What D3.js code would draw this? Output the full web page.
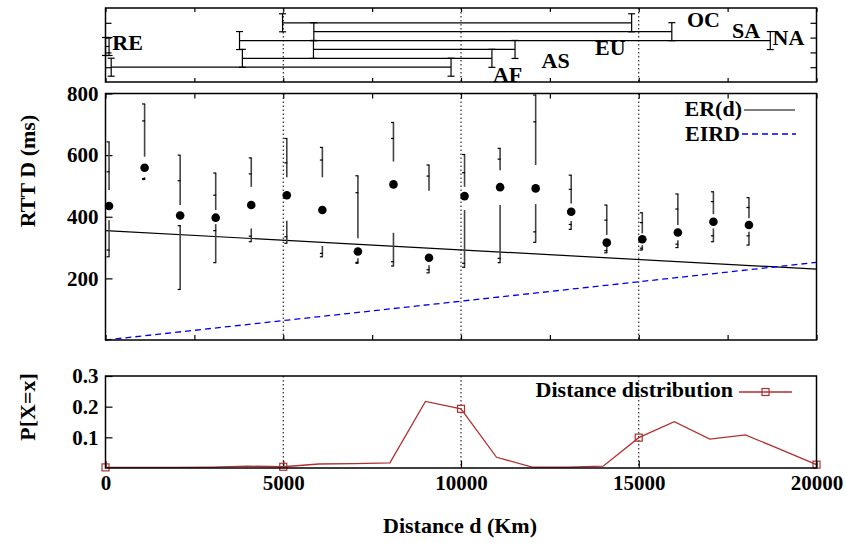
<!DOCTYPE html>
<html><head><meta charset="utf-8">
<script src="https://cdn.jsdelivr.net/npm/d3@7"></script>
<style>
body{margin:0;background:#fff;}
svg text{font-family:"Liberation Serif","Times New Roman",serif;font-weight:bold;fill:#000;}
</style></head><body>
<svg id="c" width="846" height="543"></svg>
<script>
// ---------- top panel: distance range per continent ----------
const continents = ["AF","AS","EU","NA","SA","OC","RE"];
const contLevel  = [1.0, 1.6, 2.2, 2.8, 3.4, 4.0, 2.4];
const contMin    = [160, 3850, 5850, 3770, 5860, 4980, 0];
const contMax    = [9720, 10870, 11520, 18700, 15930, 14800, 100];
const labelX     = [11310, 12660, 14200, 19210, 18020, 16820, 620];
const labelLevel = [0.0, 0.93, 1.82, 2.5, 2.95, 3.74, 2.16];

// ---------- middle panel: RTT vs distance ----------
const rttDist     = [100,1100,2100,3100,4100,5100,6100,7100,8100,9100,10100,11100,12100,13100,14100,15100,16100,17100,18100];
const whiskerHigh = [643,766,600,542,591,654,625,533,706,568,602,622,795,535,438,413,474,481,462];
const tickHigh    = [546,711,517,470,539,575,584,478,654,532,543,587,708,489,389,381,425,449,430];
const upperEnd    = [487,595,438,422,497,528,528,330,579,484,497,551,568,443,341,346,373,409,395];
const rttMean     = [435,559,404,397,438,470,422,287,505,267,467,496,492,416,316,327,349,384,373];
const lowerStart  = [389,528,373,376,362,387,305,265,348,243,422,438,441,386,303,308,324,362,351];
const tickLow     = [292,524,371,355,337,335,281,252,254,228,249,265,351,375,290,298,311,338,338];
const whiskerLow  = [270,521,164,251,319,314,270,249,240,218,236,251,317,359,283,292,300,319,308];

const modelDist = [0, 20000];
const erValue   = [355, 230];
const eirdValue = [0, 252];

// ---------- bottom panel: distance distribution ----------
const distX = [0,1000,2000,3000,4000,5000,6000,7000,8000,9000,10000,11000,12000,13000,14000,15000,16000,17000,18000,19000,20000];
const distP = [0.002,0.002,0.002,0.003,0.006,0.004,0.013,0.014,0.017,0.217,0.193,0.035,0.003,0.003,0.006,0.099,0.151,0.094,0.108,0.060,0.011];

const xTicksMinor = [0,2500,5000,7500,10000,12500,15000,17500,20000];
const xTickLabels = [0,5000,10000,15000,20000];
const gridDist    = [5000,10000,15000];
const midYTicks   = [200,400,600,800];
const botYTicks   = [0.1,0.2,0.3];
const topYTicks   = [1,2,3,4];

const FS = 21, FT = 22;
const svg = d3.select("#c");
const L = 105.5, R = 816.5;
const x = d3.scaleLinear().domain([0,20000]).range([L,R]);
const yTop = d3.scaleLinear().domain([0,5]).range([82,8]);
const yMid = d3.scaleLinear().domain([0,800]).range([340,93.5]);
const yBot = d3.scaleLinear().domain([0,0.3]).range([468,376]);

function grid(y0,y1){
  svg.append("g").selectAll("line").data(gridDist).join("line")
    .attr("x1",d=>x(d)).attr("x2",d=>x(d)).attr("y1",y0).attr("y2",y1)
    .attr("stroke","#000").attr("stroke-width",1).attr("stroke-dasharray","1.5,2.5");
}
function frame(y0,y1){
  svg.append("rect").attr("x",L).attr("y",y0).attr("width",R-L).attr("height",y1-y0)
    .attr("fill","none").attr("stroke","#000").attr("stroke-width",1.5);
}
function cleanAxis(g){ g.select(".domain").remove(); g.selectAll("line").attr("stroke","#000").attr("stroke-width",1.2); }

// ===== TOP PANEL =====
grid(8,82);
svg.append("g").attr("transform","translate(0,82)").call(d3.axisBottom(x).tickValues(xTicksMinor).tickSize(-4).tickFormat("")).call(cleanAxis);
svg.append("g").attr("transform","translate(0,8)").call(d3.axisTop(x).tickValues(xTicksMinor).tickSize(-4).tickFormat("")).call(cleanAxis);
svg.append("g").attr("transform",`translate(${L},0)`).call(d3.axisLeft(yTop).tickValues(topYTicks).tickSize(-6).tickFormat("")).call(cleanAxis);
svg.append("g").attr("transform",`translate(${R},0)`).call(d3.axisRight(yTop).tickValues(topYTicks).tickSize(-6).tickFormat("")).call(cleanAxis);

const topG = svg.append("g").attr("stroke","#000").attr("stroke-width",1.2);
continents.forEach((c,i)=>{
  const yy = yTop(contLevel[i]);
  topG.append("line").attr("x1",x(contMin[i])).attr("x2",x(contMax[i])).attr("y1",yy).attr("y2",yy);
  [contMin[i],contMax[i]].forEach(v=>{
    const xx = x(v);
    topG.append("line").attr("x1",xx).attr("x2",xx).attr("y1",yy-9).attr("y2",yy+9);
    topG.append("line").attr("x1",xx-3.5).attr("x2",xx+3.5).attr("y1",yy-9).attr("y2",yy-9);
    topG.append("line").attr("x1",xx-3.5).attr("x2",xx+3.5).attr("y1",yy+9).attr("y2",yy+9);
  });
  svg.append("text").attr("x",x(labelX[i])).attr("y",yTop(labelLevel[i]))
    .attr("text-anchor","middle").attr("font-size",FT).text(c);
});
frame(8,82);

// ===== MIDDLE PANEL =====
grid(93.5,340);
svg.append("g").attr("transform","translate(0,340)").call(d3.axisBottom(x).tickValues(xTicksMinor).tickSize(-5).tickFormat("")).call(cleanAxis);
svg.append("g").attr("transform","translate(0,93.5)").call(d3.axisTop(x).tickValues(xTicksMinor).tickSize(-5).tickFormat("")).call(cleanAxis);
svg.append("g").attr("transform",`translate(${L},0)`)
  .call(d3.axisLeft(yMid).tickValues(midYTicks).tickSize(-7).tickPadding(7).tickFormat(d3.format("d")))
  .call(cleanAxis)
  .call(g=>g.selectAll("text").attr("font-size",FS).attr("font-family",null));

const lineGen = (vals)=> d3.line().x((d,i)=>x(modelDist[i])).y(d=>yMid(d))(vals);
svg.append("path").attr("d",lineGen(erValue)).attr("fill","none").attr("stroke","#000").attr("stroke-width",1.2);
svg.append("path").attr("d",lineGen(eirdValue)).attr("fill","none").attr("stroke","#0000ee").attr("stroke-width",1.3).attr("stroke-dasharray","6,4");

const pg = svg.append("g");
rttDist.forEach((d,i)=>{
  const cx = x(d);
  pg.append("line").attr("x1",cx).attr("x2",cx).attr("y1",yMid(whiskerHigh[i])).attr("y2",yMid(upperEnd[i]))
    .attr("stroke","#444").attr("stroke-width",1.6);
  pg.append("line").attr("x1",cx).attr("x2",cx).attr("y1",yMid(lowerStart[i])).attr("y2",yMid(whiskerLow[i]))
    .attr("stroke","#444").attr("stroke-width",1.6);
  [whiskerHigh[i],whiskerLow[i],tickHigh[i],tickLow[i]].forEach(v=>{
    pg.append("line").attr("x1",cx-2.5).attr("x2",cx+0.5).attr("y1",yMid(v)).attr("y2",yMid(v))
      .attr("stroke","#000").attr("stroke-width",1.2);
  });
  pg.append("circle").attr("cx",cx).attr("cy",yMid(rttMean[i])).attr("r",4.3).attr("fill","#000");
});

svg.append("text").attr("x",742).attr("y",116).attr("text-anchor","end").attr("font-size",FT).text("ER(d)");
svg.append("line").attr("x1",744).attr("x2",795).attr("y1",110).attr("y2",110).attr("stroke","#000").attr("stroke-width",1.2);
svg.append("text").attr("x",740).attr("y",141).attr("text-anchor","end").attr("font-size",FT).text("EIRD");
svg.append("line").attr("x1",742).attr("x2",796).attr("y1",134).attr("y2",134).attr("stroke","#0000ee").attr("stroke-width",1.3).attr("stroke-dasharray","6,4");
frame(93.5,340);

// ===== BOTTOM PANEL =====
grid(376,468);
svg.append("g").attr("transform","translate(0,468)")
  .call(d3.axisBottom(x).tickValues(xTickLabels).tickSize(-7).tickPadding(7).tickFormat(d3.format("d")))
  .call(cleanAxis)
  .call(g=>g.selectAll("text").attr("font-size",FS).attr("font-family",null));
svg.append("g").attr("transform",`translate(${L},0)`)
  .call(d3.axisLeft(yBot).tickValues(botYTicks).tickSize(-7).tickPadding(7).tickFormat(d3.format(".1f")))
  .call(cleanAxis)
  .call(g=>g.selectAll("text").attr("font-size",FS).attr("font-family",null));

const RED = "#b03030";
svg.append("path").attr("d",d3.line().x((d,i)=>x(distX[i])).y(d=>yBot(d))(distP))
  .attr("fill","none").attr("stroke",RED).attr("stroke-width",1.3);
svg.append("g").selectAll("rect").data(distX.filter((d,i)=>i%5===0)).join("rect")
  .attr("x",d=>x(d)-3.5).attr("y",d=>yBot(distP[distX.indexOf(d)])-3.5).attr("width",7).attr("height",7)
  .attr("fill","none").attr("stroke",RED).attr("stroke-width",1.2);
svg.append("text").attr("x",733).attr("y",397).attr("text-anchor","end").attr("font-size",FT).text("Distance distribution");
svg.append("line").attr("x1",739).attr("x2",792).attr("y1",392).attr("y2",392).attr("stroke",RED).attr("stroke-width",1.3);
svg.append("rect").attr("x",762).attr("y",388.5).attr("width",7).attr("height",7).attr("fill","none").attr("stroke",RED).attr("stroke-width",1.2);
frame(376,468);

svg.append("text").attr("transform","translate(35,171) rotate(-90)").attr("text-anchor","middle").attr("font-size",FT).text("RTT D (ms)");
svg.append("text").attr("transform","translate(35,407) rotate(-90)").attr("text-anchor","middle").attr("font-size",FT).text("P[X=x]");
svg.append("text").attr("x",460).attr("y",533).attr("text-anchor","middle").attr("font-size",FT).text("Distance d (Km)");
</script></body></html>
